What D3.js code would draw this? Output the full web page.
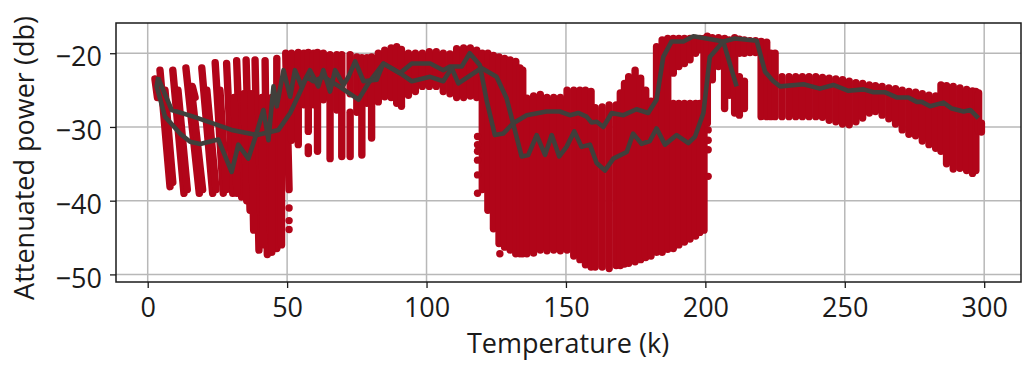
<!DOCTYPE html>
<html><head><meta charset="utf-8">
<script src="https://cdn.jsdelivr.net/npm/d3@7/dist/d3.min.js"></script>
<style>html,body{margin:0;padding:0;background:#fff}svg{display:block}</style>
</head><body><svg id="c" width="1030" height="367"></svg>
<script>
// Slanted sweeps of readings at low temperature: [temp at top, power at top, temp at bottom, power at bottom]
const sweeps = [
[2.6,-23.5,3.5,-26],[4.4,-22.3,8,-38.1],[9,-22.3,13,-39],[13.7,-22,18.5,-39],[19.4,-22,23.3,-39],
[24.2,-21.3,27.1,-39],[28.3,-21.4,30.5,-39],[31.9,-21,33.7,-39.5],[35.3,-20.9,36.7,-41.3],
[38.5,-20.9,39.9,-46.7],[42.1,-21,42.9,-47.3],[46.3,-20.7,46.3,-46.5],[49.5,-20,50.7,-38.5],
[6.2,-25,9,-37.5],[10.85,-25,14.2,-38.5],[15.7,-25,19.7,-38.5],[21.2,-25,24.5,-38.5],[25.9,-25,28.2,-38.5],
[16,-24.5,17,-26],[31,-26,32,-39],[34.5,-25.5,35.5,-40],[37,-25.5,38,-44],[41,-26,41.5,-46],[44.5,-26,44.5,-47],[48,-24,48,-46]
];
// Vertical runs of readings: [temperature, highest power, lowest power]
const runsMid = [
[51.6,-20,-31.8],[54,-19.9,-32.4],[56,-20,-27],[57.6,-19.9,-30.6],[57.6,-32.7,-33.6],[59.5,-20,-27],[60.9,-19.9,-33.3],
[63,-20,-26.3],[65.4,-20.2,-34.3],[67.8,-20.2,-27.7],[69.6,-20.2,-34],[72.6,-20.2,-25.5],[72.6,-28,-34],[75,-20.5,-28],
[76.8,-20.6,-33.8],[78.6,-20.6,-26.8],[80.3,-20.5,-31.5],[82.7,-20,-26.6],[85,-19.6,-25.9],[87.3,-19.3,-26],[89.3,-19.1,-26.8],
[91,-19.5,-27.2],[93.5,-20,-25.7],[96,-20,-25.2],[98.5,-20,-24.5],[101,-19.8,-24.5],[103.5,-19.8,-24.5],[106,-20,-25.2],
[108.4,-20.1,-25.5],[110.8,-19.4,-26],[113.3,-19.3,-26],[115.7,-19.3,-25.8],[118,-19.6,-26]
];
const runsTrough = [
[120,-20,-38.5],[122,-20,-41.3],[124,-20.3,-43.8],[126,-20.5,-45.8],[128,-20.7,-46.3],[130,-20.9,-46.7],[132,-21.1,-47.2],[133.5,-22,-47.2],[134.5,-22.3,-47.2],
[136,-26.1,-47.2],[138.4,-25.8,-47.1],[140.8,-25.6,-46.7],[143.2,-26,-46.8],[145.6,-26,-46.7],[148,-26,-46.8],[150.4,-25,-46.7],[152.8,-25,-47.5],[155,-25,-48],[157,-25,-48.7],[159,-25.2,-49],
[160.5,-27.4,-49],[163,-27.3,-49],[165.5,-27,-49.2],[168,-27,-48.8],[169.5,-25.4,-48.8],[171,-24.1,-48.6],[172.5,-23.2,-48.5],[174.8,-22.3,-48.3],[176.8,-23.4,-48],[178.6,-25,-47.7],[180.5,-26.5,-47.5],
[182.5,-19.1,-47],[184.5,-18.2,-47],[186.5,-18,-46.6],
[188.5,-18,-22.7],[188.5,-26.8,-46.5],[190.5,-18,-21.8],[190.5,-26.8,-46],[192.5,-18,-21.4],[192.5,-26.8,-45.6],[194.5,-18,-20.9],[194.5,-26.8,-45.2],[196.5,-18,-20],[196.5,-26.8,-44.8],[198,-18,-19.5],[198,-26.8,-44.3],
[199.5,-18,-44],[200.7,-17.7,-29.5]
];
const runsHigh = [
[202.5,-17.9,-23.6],[204.7,-17.9,-21.8],[206.9,-18,-27.5],[208.6,-18.2,-25.7],[210.5,-17.9,-28.1],[212.2,-18.1,-20],[212.2,-23.2,-28.4],[214,-18.2,-20],[214,-23.8,-27.5],
[216,-18.3,-19.9],[218,-18.3,-19.9],[220,-18.4,-28.6],[222,-18.5,-28.6],[223.5,-20,-28.6],[225,-20,-28.6],
[227.5,-23.2,-28.6],[230,-23.2,-28.6],[232.4,-23.2,-28.6],[234.8,-23.2,-28.6],[237.2,-23.2,-28.6],[239.6,-23.2,-28.6],[242,-23.3,-28.7],[244.4,-23.4,-29.1],[246.8,-23.5,-29.3],[249.2,-23.6,-29.6],[251.6,-23.8,-29.7],[254,-24,-29.3],[256.4,-24.1,-28.8],[258.8,-24.3,-28.1],[261,-24.4,-27.9],[263.4,-24.5,-28.4],[265.8,-24.7,-28.9],[268.2,-24.8,-29.6],[270.6,-25,-30.4],[273,-25.2,-31],[275.4,-25.3,-31.2],[277.8,-25.5,-31.9],[280.2,-25.7,-32.4],[282.6,-25.8,-32.9],[284.5,-24.3,-33.3],[286.5,-24.4,-35],[288.9,-24.5,-35.7],[291.3,-24.7,-35.6],[293.7,-24.9,-35.9],[295.8,-25.1,-36.3],[297,-25.2,-35.9],[298,-25.4,-30.5],[299,-29.5,-30.7]
];
// Isolated readings: [temperature, power]
const isolated = [
[50.7,-41],[50.7,-42.7],[50.7,-43.9],[118.3,-31.3],[118.3,-32.4],[118.3,-33.3],[118.3,-34.5],[118.3,-36.5],[118.3,-39],
[201,-30.4],[201,-31.8],[201,-33.1],[201,-36.7],[126.3,-47.2]
];
// Average curves
const curveA = [[3.8,-23.4],[8.6,-27.7],[16.4,-28.6],[30.1,-30.4],[39.1,-31.1],[46.9,-30.4],[51.1,-28.1],[55.2,-24.8],[57,-23.2],[59.4,-23.8],[63,-23.2],[67.8,-24.3],[71.4,-25.2],[75.6,-26.3],[79.1,-24.1],[84.5,-21.4],[90.5,-22.7],[94.7,-21.4],[101.3,-21.4],[106,-22.3],[108.4,-21.8],[112.6,-21.8],[115.5,-20],[119.1,-21.6],[121.5,-26.3],[124.5,-31.1],[127.5,-30.9],[131.1,-29.5],[135.9,-28.4],[143,-27.9],[147.8,-27.9],[151.4,-28.4],[154.4,-28.1],[157.4,-28.6],[159.2,-29.4],[161,-29.3],[163.4,-30],[166.4,-28.1],[170.6,-28.4],[175.3,-27.6],[179.5,-28.1],[182.5,-26.3],[184.9,-20.5],[187.9,-18.4],[192.1,-18.4],[195.7,-17.7],[200.4,-18],[206.4,-18.4],[211.2,-24.5]];
const curveB = [[3.8,-23.2],[3.2,-24.5],[6.2,-28.6],[11.6,-30.9],[15.2,-32],[18.8,-32.3],[25.3,-31.7],[30.1,-36.1],[32.5,-32.4],[36.1,-34.3],[38.5,-31.5],[41.5,-27.7],[43.3,-31.8],[45.1,-24.5],[46.3,-27.2],[48.7,-22.3],[51.1,-25.9],[52.8,-22.3],[55.2,-24.5],[58.2,-22.3],[61.2,-24.5],[63,-22.3],[65.4,-25.2],[67.2,-22.3],[70.2,-24.3],[72,-23.2],[74.4,-21.1],[77.4,-23.8],[82.1,-23.6],[84.5,-21.4],[90.5,-22.7],[94.7,-23.8],[101.3,-23.2],[106,-23.8],[109,-22],[111.4,-24.1],[119.7,-22],[125.1,-23.2],[128.7,-26.1],[134.1,-34],[136.5,-33.8],[139.5,-31.1],[142.5,-33.8],[144.9,-31.1],[147.6,-34],[150.2,-32.7],[153,-30.6],[155.6,-32.7],[158.6,-32.4],[161,-34.9],[164,-35.9],[167,-34.3],[171.8,-33.4],[174.1,-30.9],[177.1,-32.3],[180.1,-31.9],[182.5,-30.2],[185.5,-32.4],[189.7,-31.1],[193.9,-32.2],[196.3,-31.3],[199.3,-28.1],[201.6,-20.5],[206.4,-18.4],[210.6,-18],[218.4,-18.3],[221.4,-22.5],[224.4,-23.8],[226.8,-24.5],[235.2,-24.2],[241.1,-24.8],[245.9,-24.3],[251.3,-25.1],[256.7,-24.9],[260.3,-25.3],[264.5,-25.3],[268.6,-26],[272.8,-26],[275.8,-26.6],[277.6,-26.6],[280.6,-27.2],[285.4,-26.7],[288.4,-27.5],[292.6,-27.9],[295,-27.7],[297.9,-28.8]];
const xTicks = [0,50,100,150,200,250,300];
const yTicks = [-20,-30,-40,-50];
const xTitle = "Temperature (k)";
const yTitle = "Attenuated power (db)";

const RED="#b10519", DARK="#403f3b", GRID="#b8b8b8", INK="#1a1a1a", FONT="'Open Sans','Noto Sans',sans-serif";
const L=116,R=1021,T=23,B=282;
const x=d3.scaleLinear().domain([-11.37,313.2]).range([L,R]);
const y=d3.scaleLinear().domain([-51.03,-15.9]).range([B,T]);
const svg=d3.select("#c");
svg.append("defs").append("clipPath").attr("id","clip").append("rect").attr("x",L).attr("y",T).attr("width",R-L).attr("height",B-T);

const grid=svg.append("g").attr("stroke",GRID).attr("stroke-width",1.5);
grid.selectAll("line.v").data(xTicks).join("line").attr("class","v").attr("x1",d=>x(d)).attr("x2",d=>x(d)).attr("y1",T).attr("y2",B);
grid.selectAll("line.h").data(yTicks).join("line").attr("class","h").attr("x1",L).attr("x2",R).attr("y1",d=>y(d)).attr("y2",d=>y(d));

const marks=svg.append("g").attr("clip-path","url(#clip)");
const seg=marks.append("g").attr("stroke",RED).attr("stroke-width",7.4).attr("stroke-linecap","round");
seg.selectAll("line.s").data(sweeps).join("line").attr("class","s")
 .attr("x1",d=>x(d[0])).attr("y1",d=>y(d[1])).attr("x2",d=>x(d[2])).attr("y2",d=>y(d[3]));
seg.selectAll("line.r").data(runsMid.concat(runsTrough,runsHigh)).join("line").attr("class","r")
 .attr("x1",d=>x(d[0])).attr("y1",d=>y(d[1])).attr("x2",d=>x(d[0])).attr("y2",d=>y(d[2]));
marks.append("g").attr("fill",RED).selectAll("circle").data(isolated).join("circle")
 .attr("cx",d=>x(d[0])).attr("cy",d=>y(d[1])).attr("r",3.7);
const line=d3.line().x(d=>x(d[0])).y(d=>y(d[1]));
marks.selectAll("path.c").data([curveA,curveB]).join("path").attr("class","c")
 .attr("d",line).attr("fill","none").attr("stroke",DARK).attr("stroke-width",4.6).attr("stroke-linejoin","round");

svg.append("rect").attr("x",L).attr("y",T).attr("width",R-L).attr("height",B-T).attr("fill","none").attr("stroke",INK).attr("stroke-width",1.5);

const fmt=d=>String(d).replace("-","\u2212");
const ax=svg.append("g").attr("transform",`translate(0,${B})`).call(d3.axisBottom(x).tickValues(xTicks).tickFormat(fmt).tickSize(6).tickPadding(10));
const ay=svg.append("g").attr("transform",`translate(${L},0)`).call(d3.axisLeft(y).tickValues(yTicks).tickFormat(fmt).tickSize(6).tickPadding(8));
[ax,ay].forEach(g=>{g.select(".domain").remove();g.selectAll("line").attr("stroke",INK).attr("stroke-width",1.3);
 g.selectAll("text").attr("fill",INK).style("font-family",FONT).style("font-size","27px");});
ay.selectAll("text").attr("dy","0.47em");
svg.append("text").attr("x",568).attr("y",353).attr("text-anchor","middle").attr("fill",INK).style("font-family",FONT).style("font-size","27px").text(xTitle);
svg.append("text").attr("transform","translate(34,158) rotate(-90)").attr("text-anchor","middle").attr("fill",INK).style("font-family",FONT).style("font-size","27px").text(yTitle);
</script></body></html>
